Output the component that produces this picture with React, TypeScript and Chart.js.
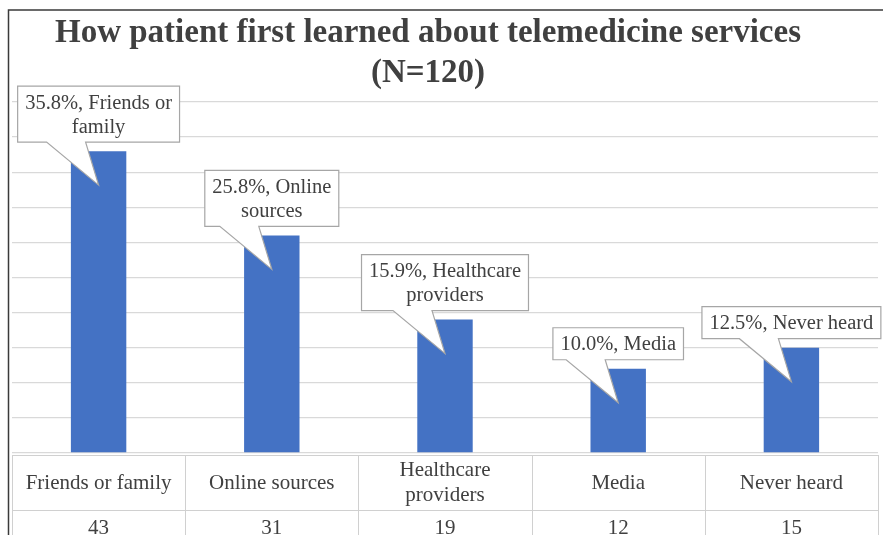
import React, { useEffect, useRef } from "react";
import { Chart, registerables } from "chart.js";

Chart.register(...registerables);

const titleLines = ["How patient first learned about telemedicine services", "(N=120)"];
const categories = ["Friends or family", "Online sources", "Healthcare providers", "Media", "Never heard"];
const counts = [43, 31, 19, 12, 15];
const percentLabels = ["35.8%", "25.8%", "15.9%", "10.0%", "12.5%"];
const yMax = 50;
const yStep = 5;

const FONT = '"Liberation Serif", "Times New Roman", serif';
const TEXT = "#404040";

function wrap(ctx: CanvasRenderingContext2D, text: string, maxW: number): string[] {
  const words = text.split(" ");
  const lines: string[] = [];
  let cur = "";
  for (const w of words) {
    const t = cur ? cur + " " + w : w;
    if (ctx.measureText(t).width > maxW && cur) {
      lines.push(cur);
      cur = w;
    } else cur = t;
  }
  if (cur) lines.push(cur);
  return lines;
}

const decorPlugin = {
  id: "decor",
  beforeDraw(chart: any) {
    const ctx = chart.ctx as CanvasRenderingContext2D;
    ctx.save();
    ctx.fillStyle = "#ffffff";
    ctx.fillRect(0, 0, chart.width, chart.height);
    // frame
    ctx.strokeStyle = "#3a3a3a";
    ctx.lineWidth = 1.5;
    ctx.beginPath();
    ctx.moveTo(8.5, chart.height);
    ctx.lineTo(8.5, 10);
    ctx.lineTo(chart.width, 10);
    ctx.stroke();
    // title
    ctx.fillStyle = TEXT;
    ctx.font = `bold 33px ${FONT}`;
    ctx.textAlign = "center";
    ctx.textBaseline = "middle";
    ctx.fillText(titleLines[0], 428, 33);
    ctx.fillText(titleLines[1], 428, 73);
    ctx.restore();
  },
  afterDraw(chart: any) {
    const ctx = chart.ctx as CanvasRenderingContext2D;
    const area = chart.chartArea;
    const meta = chart.getDatasetMeta(0);
    ctx.save();
    // data table
    const top = area.bottom + 2;
    const mid = top + 55;
    const colW = (area.right - area.left) / categories.length;
    ctx.strokeStyle = "#d0d0d0";
    ctx.lineWidth = 1;
    ctx.beginPath();
    ctx.moveTo(area.left, top + 0.5);
    ctx.lineTo(area.right, top + 0.5);
    ctx.moveTo(area.left, mid + 0.5);
    ctx.lineTo(area.right, mid + 0.5);
    for (let k = 0; k <= categories.length; k++) {
      const x = Math.round(area.left + k * colW) + 0.5;
      ctx.moveTo(x, top);
      ctx.lineTo(x, chart.height);
    }
    ctx.stroke();
    ctx.fillStyle = TEXT;
    ctx.font = `21px ${FONT}`;
    ctx.textAlign = "center";
    ctx.textBaseline = "middle";
    categories.forEach((c, i) => {
      const cx = area.left + (i + 0.5) * colW;
      const lines = wrap(ctx, c, colW - 18);
      const lh = 25;
      const y0 = top + 28 - ((lines.length - 1) * lh) / 2;
      lines.forEach((l, j) => ctx.fillText(l, cx, y0 + j * lh));
      ctx.fillText(String(counts[i]), cx, mid + 18);
    });

    // callouts
    ctx.font = `20.5px ${FONT}`;
    meta.data.forEach((bar: any, i: number) => {
      const bx = bar.x;
      const by = bar.y;
      const lines = wrap(ctx, `${percentLabels[i]}, ${categories[i]}`, 172);
      let maxW = 0;
      lines.forEach((l) => (maxW = Math.max(maxW, ctx.measureText(l).width)));
      const lh = 24;
      const w = maxW + 15;
      const h = lines.length * lh + 8;
      const left = bx - w / 2;
      const bottom = by - 9;
      const topY = bottom - h;
      const right = left + w;
      const tipX = bx;
      const tipY = by + 34;
      ctx.beginPath();
      ctx.moveTo(left, topY);
      ctx.lineTo(right, topY);
      ctx.lineTo(right, bottom);
      ctx.lineTo(bx - 13, bottom);
      ctx.lineTo(tipX, tipY);
      ctx.lineTo(bx - 52, bottom);
      ctx.lineTo(left, bottom);
      ctx.closePath();
      ctx.fillStyle = "#ffffff";
      ctx.fill();
      ctx.strokeStyle = "#a6a6a6";
      ctx.lineWidth = 1.2;
      ctx.stroke();
      ctx.fillStyle = TEXT;
      lines.forEach((l, j) => ctx.fillText(l, bx, topY + 4 + lh / 2 + j * lh + 1));
    });
    ctx.restore();
  },
};

export default function App() {
  const ref = useRef<HTMLCanvasElement>(null);
  useEffect(() => {
    if (!ref.current) return;
    const chart = new Chart(ref.current, {
      type: "bar",
      data: {
        labels: categories,
        datasets: [
          {
            data: counts,
            backgroundColor: "#4472C4",
            borderWidth: 0,
            categoryPercentage: 1,
            barPercentage: 0.32,
          },
        ],
      },
      options: {
        responsive: false,
        animation: false,
        devicePixelRatio: 1,
        layout: { padding: { left: 12, right: 5, top: 102, bottom: 82 } },
        plugins: { legend: { display: false }, tooltip: { enabled: false }, title: { display: false } },
        scales: {
          x: { display: false },
          y: {
            min: 0,
            max: yMax,
            ticks: { display: false, stepSize: yStep },
            border: { display: false },
            grid: { color: "#d9d9d9", lineWidth: 1.3, drawTicks: false },
            afterFit: (axis: any) => {
              axis.width = 0;
            },
          },
        },
      },
      plugins: [decorPlugin],
    });
    return () => chart.destroy();
  }, []);
  return (
    <div style={{ position: "absolute", left: 0, top: 0, width: 883, height: 535 }}>
      <canvas ref={ref} width={883} height={535} />
    </div>
  );
}
